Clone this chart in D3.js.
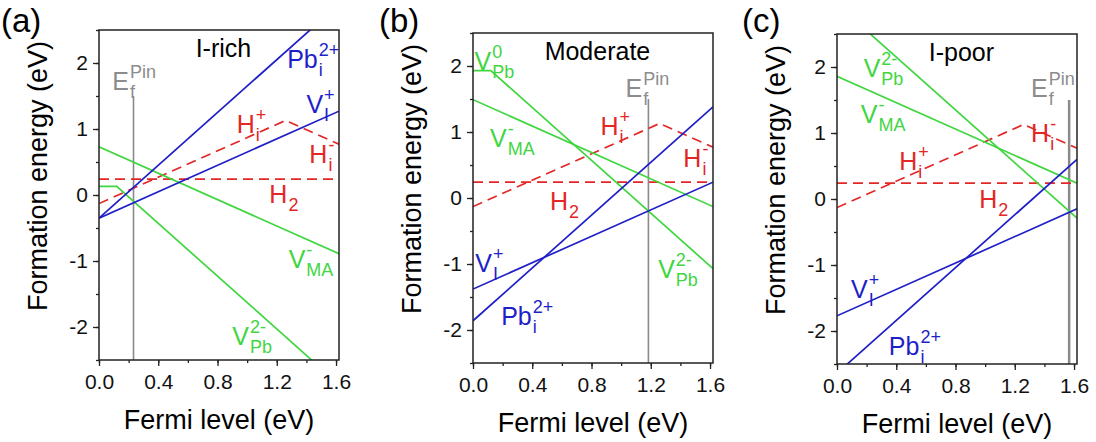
<!DOCTYPE html>
<html>
<head>
<meta charset="utf-8">
<script src="https://cdn.jsdelivr.net/npm/d3@7"></script>
<style>
  body { margin: 0; background: #fff; }
  svg text { font-family: "Liberation Sans", Arial, sans-serif; }
</style>
</head>
<body>
<div id="canvas"></div>
<script>
const canvas = d3.select("#canvas");

// data, one entry per panel (a), (b), (c)
const panelTags = ["(a)", "(b)", "(c)"];
const titles = ["I-rich", "Moderate", "I-poor"];
const xTicks = [0, 0.4, 0.8, 1.2, 1.6];
const yTicks = [-2, -1, 0, 1, 2];
const efPin = [0.233, 1.184, 1.567];
const efPinTop = 1.5;

// formation energy lines, [Fermi level, energy] points
const pbI = [
  [[0, -0.35], [1.62, 2.89]],
  [[0, -1.86], [1.62, 1.38]],
  [[0, -2.64], [1.62, 0.60]]
];
const vI = [
  [[0, -0.35], [1.62, 1.27]],
  [[0, -1.38], [1.62, 0.24]],
  [[0, -1.77], [1.62, -0.15]]
];
const vMA = [
  [[0, 0.73], [1.62, -0.89]],
  [[0, 1.49], [1.62, -0.13]],
  [[0, 1.86], [1.62, 0.24]]
];
const vPb = [
  [[0, 0.13], [0.12, 0.13], [1.62, -2.87]],
  [[0, 1.93], [0.12, 1.93], [1.62, -1.07]],
  [[0, 2.95], [1.62, -0.29]]
];
const hI = [
  [[0, -0.13], [1.26, 1.13], [1.62, 0.77]],
  [[0, -0.13], [1.26, 1.13], [1.62, 0.77]],
  [[0, -0.13], [1.26, 1.13], [1.62, 0.77]]
];
const h2 = [
  [[0, 0.24], [1.62, 0.24]],
  [[0, 0.24], [1.62, 0.24]],
  [[0, 0.24], [1.62, 0.24]]
];

// labels (anchor in data units)
const labels = [
  [
    {c: "blue", main: "Pb", sup: "2+", sub: "i", x: 1.27, y: 1.92},
    {c: "blue", main: "V", sup: "+", sub: "I", x: 1.40, y: 1.24},
    {c: "red", main: "H", sup: "+", sub: "i", x: 0.93, y: 0.94},
    {c: "red", main: "H", sup: "-", sub: "i", x: 1.42, y: 0.48},
    {c: "red", main: "H", sub: "2", x: 1.15, y: -0.12},
    {c: "green", main: "V", sup: "-", sub: "MA", x: 1.28, y: -1.11},
    {c: "green", main: "V", sup: "2-", sub: "Pb", x: 0.90, y: -2.27},
    {c: "gray", main: "E", sup: "Pin", sub: "f", x: 0.09, y: 1.59}
  ],
  [
    {c: "green", main: "V", sup: "0", sub: "Pb", x: 0.01, y: 1.94},
    {c: "green", main: "V", sup: "-", sub: "MA", x: 0.115, y: 0.77},
    {c: "blue", main: "V", sup: "+", sub: "I", x: 0.015, y: -1.12},
    {c: "blue", main: "Pb", sup: "2+", sub: "i", x: 0.19, y: -1.92},
    {c: "gray", main: "E", sup: "Pin", sub: "f", x: 1.03, y: 1.53},
    {c: "red", main: "H", sup: "+", sub: "i", x: 0.86, y: 0.95},
    {c: "red", main: "H", sup: "-", sub: "i", x: 1.42, y: 0.47},
    {c: "green", main: "V", sup: "2-", sub: "Pb", x: 1.25, y: -1.21},
    {c: "red", main: "H", sub: "2", x: 0.52, y: -0.18}
  ],
  [
    {c: "green", main: "V", sup: "2-", sub: "Pb", x: 0.18, y: 1.85},
    {c: "green", main: "V", sup: "-", sub: "MA", x: 0.16, y: 1.15},
    {c: "red", main: "H", sup: "-", sub: "i", x: 1.31, y: 0.86},
    {c: "red", main: "H", sup: "+", sub: "i", x: 0.42, y: 0.44},
    {c: "red", main: "H", sub: "2", x: 0.96, y: -0.14},
    {c: "blue", main: "V", sup: "+", sub: "I", x: 0.095, y: -1.50},
    {c: "blue", main: "Pb", sup: "2+", sub: "i", x: 0.35, y: -2.36},
    {c: "gray", main: "E", sup: "Pin", sub: "f", x: 1.31, y: 1.55}
  ]
];

const colors = {blue: "#1f1fc8", green: "#3fd63f", red: "#e32626", gray: "#8c8c8c"};

// layout
const width = 1096, height = 442;
const W = 240, H = 330;
const lefts = [99, 473, 837];
const tops = [30, 33, 34];
const tagX = [1, 379, 742];

const svg = canvas.append("svg").attr("width", width).attr("height", height);

const x = d3.scaleLinear().domain([0, 1.62]).range([0, W]);
const y = d3.scaleLinear().domain([-2.5, 2.5]).range([H, 0]);
const line = d3.line().x(d => x(d[0])).y(d => y(d[1]));

panelTags.forEach((tag, i) => {
  svg.append("text").attr("x", tagX[i]).attr("y", 32)
    .style("font-size", "33px").text(tag);

  const g = svg.append("g").attr("transform", `translate(${lefts[i]},${tops[i]})`);

  g.append("clipPath").attr("id", "clip" + i)
    .append("rect").attr("width", W).attr("height", H);

  // minor ticks
  g.append("g").attr("transform", `translate(0,${H})`)
    .call(d3.axisBottom(x).tickValues(d3.range(0, 1.61, 0.2)).tickSize(3).tickFormat(""))
    .call(a => a.select(".domain").remove());
  g.append("g")
    .call(d3.axisLeft(y).tickValues(d3.range(-2.5, 2.51, 0.5)).tickSize(3).tickFormat(""))
    .call(a => a.select(".domain").remove());

  // major ticks
  const xa = g.append("g").attr("transform", `translate(0,${H})`)
    .call(d3.axisBottom(x).tickValues(xTicks).tickSize(6).tickPadding(8).tickFormat(d3.format(".1f")));
  const ya = g.append("g")
    .call(d3.axisLeft(y).tickValues(yTicks).tickSize(6).tickPadding(5).tickFormat(d => String(d)));
  [xa, ya].forEach(a => {
    a.select(".domain").remove();
    a.selectAll("text").style("font-size", "21px").style("font-family", "Liberation Sans, Arial, sans-serif").attr("fill", "#111");
  });
  g.selectAll(".tick line").attr("stroke", "#222").attr("stroke-width", 1.3);

  const lines = g.append("g").attr("clip-path", `url(#clip${i})`);

  // pinning level
  lines.append("line")
    .attr("x1", x(efPin[i])).attr("x2", x(efPin[i]))
    .attr("y1", y(-2.5)).attr("y2", y(efPinTop))
    .attr("stroke", "#8a8a8a").attr("stroke-width", i === 2 ? 2.5 : 1.6);

  [[h2, "red", true], [hI, "red", true], [vMA, "green"], [vPb, "green"],
   [vI, "blue"], [pbI, "blue"]].forEach(([s, c, dashed]) => {
    lines.append("path").datum(s[i]).attr("d", line)
      .attr("fill", "none").attr("stroke", colors[c]).attr("stroke-width", 1.7)
      .attr("stroke-dasharray", dashed ? "10,6" : null);
  });

  // frame
  g.append("rect").attr("width", W).attr("height", H)
    .attr("fill", "none").attr("stroke", "#222").attr("stroke-width", 1.5);

  g.append("text").attr("x", x(0.84)).attr("y", y(2.09))
    .attr("text-anchor", "middle").style("font-size", "25px").text(titles[i]);

  labels[i].forEach(l => {
    const t = g.append("text").attr("x", x(l.x)).attr("y", y(l.y))
      .attr("fill", colors[l.c]).style("font-size", "25px").text(l.main);
    const x2 = x(l.x) + t.node().getComputedTextLength() + 1;
    if (l.sup) g.append("text").attr("x", x2).attr("y", y(l.y) - 12)
      .attr("fill", colors[l.c]).style("font-size", "18px").text(l.sup);
    if (l.sub) g.append("text").attr("x", x2).attr("y", y(l.y) + 8)
      .attr("fill", colors[l.c]).style("font-size", "18px").text(l.sub);
  });

  // axis titles
  g.append("text").attr("x", W / 2).attr("y", H + 69)
    .attr("text-anchor", "middle").style("font-size", "27px").text("Fermi level (eV)");
  g.append("text").attr("transform", `translate(-52,${146}) rotate(-90)`)
    .attr("text-anchor", "middle").style("font-size", "27px").text("Formation energy (eV)");
});
</script>
</body>
</html>
